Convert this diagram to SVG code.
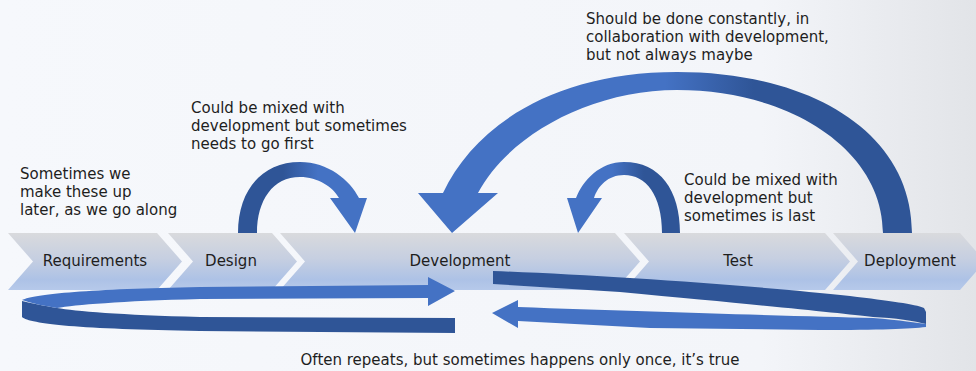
<svg xmlns="http://www.w3.org/2000/svg" width="976" height="371" viewBox="0 0 976 371">
  <defs>
    <linearGradient id="bg" x1="0" y1="0" x2="1" y2="0">
      <stop offset="0" stop-color="#f6f8fc"/>
      <stop offset="0.78" stop-color="#f3f5f9"/>
      <stop offset="1" stop-color="#e2e4e8"/>
    </linearGradient>
    <linearGradient id="chev" x1="0" y1="0" x2="0" y2="1">
      <stop offset="0" stop-color="#d9dadd"/>
      <stop offset="0.45" stop-color="#c6cfe1"/>
      <stop offset="0.82" stop-color="#adc2e6"/>
      <stop offset="1" stop-color="#b6c9ea"/>
    </linearGradient>
    <linearGradient id="gDesign" x1="0" y1="0" x2="1" y2="0">
      <stop offset="0" stop-color="#2f5597"/>
      <stop offset="0.35" stop-color="#2f5597"/>
      <stop offset="0.62" stop-color="#4472c4"/>
      <stop offset="1" stop-color="#4472c4"/>
    </linearGradient>
    <linearGradient id="gTest" x1="0" y1="0" x2="1" y2="0">
      <stop offset="0" stop-color="#4472c4"/>
      <stop offset="0.4" stop-color="#4472c4"/>
      <stop offset="0.68" stop-color="#2f5597"/>
      <stop offset="1" stop-color="#2f5597"/>
    </linearGradient>
    <linearGradient id="gBig" x1="0" y1="0" x2="1" y2="0">
      <stop offset="0" stop-color="#4472c4"/>
      <stop offset="0.5" stop-color="#4472c4"/>
      <stop offset="0.68" stop-color="#2f5597"/>
      <stop offset="1" stop-color="#2f5597"/>
    </linearGradient>
    <style>
      .chev { fill: url(#chev); }
      .lbl { font-family: "DejaVu Sans", Verdana, sans-serif; font-size: 15px; fill: #1e1e1e; text-anchor: middle; }
      .note { font-family: "DejaVu Sans", Verdana, sans-serif; font-size: 15px; fill: #1e1e1e; }
      .light { fill: #4472c4; }
      .dark { fill: #2f5597; }
    </style>
  </defs>

  <rect x="0" y="0" width="976" height="371" fill="url(#bg)"/>

  <g id="requirements">
    <polygon class="chev" points="8,233 157,233 182,261.5 157,290 8,290 33,261.5"/>
    <text class="lbl" x="95" y="266">Requirements</text>
  </g>
  <g id="design">
    <polygon class="chev" points="168,233 272,233 297,261.5 272,290 168,290 193,261.5"/>
    <text class="lbl" x="231" y="266">Design</text>
  </g>
  <g id="development">
    <polygon class="chev" points="280,233 615,233 640,261.5 615,290 280,290 305,261.5"/>
    <text class="lbl" x="460" y="266">Development</text>
  </g>
  <g id="test">
    <polygon class="chev" points="624,233 825,233 850,261.5 825,290 624,290 649,261.5"/>
    <text class="lbl" x="738" y="266">Test</text>
  </g>
  <g id="deployment">
    <polygon class="chev" points="833,233 960,233 985,261.5 960,290 833,290 858,261.5"/>
    <text class="lbl" x="910" y="266">Deployment</text>
  </g>

  <g id="connectors">
    <!-- Design self-loop arrow -->
    <path fill="url(#gDesign)" d="M238,233 C238,190 262,162 300,162 C328,162 350,180 359,198 L367,198 L355,233 L330,198 L339,198 C333,187 318,177 300,177 C273,177 257,200 257,233 Z"/>
    <!-- Test loop arrow back to development -->
    <path fill="url(#gTest)" d="M680,233 C680,190 660,162 624,162 C600,162 583,180 576,198 L567,198 L578,233 L602,198 L594,198 C598,186 608,175 624,175 C646,175 662,195 662,233 Z"/>
    <!-- Deployment to development big arrow -->
    <path fill="url(#gBig)" d="M912,233 C912,132 810,72 677,72 C555,72 475,125 443,193 L418,193 L452,233 L498,193 L478,193 C508,136 590,90 677,90 C790,90 883,150 883,233 Z"/>
    <!-- left repeat loop: lower dark strand -->
    <path class="dark" d="M22,301 L22,317 C30,324 80,329 200,331 L455,333 L455,318 L200,317 C120,315 75,311 57,308 C45,306 30,303 22,301 Z"/>
    <!-- left repeat loop: upper light strand with arrowhead -->
    <path class="light" d="M22,300 C35,294 90,289 200,287 L428,285 L428,277 L455,291 L428,306 L428,298 L200,299 C120,301 75,305 57,308 C45,306 30,303 22,300 Z"/>
    <!-- right repeat loop: upper dark strand -->
    <path class="dark" d="M493,271 C600,275 760,286 850,296 C890,301 915,304 924,308 L926,312 L926,324 C915,321 895,318 873,317 C840,313 760,305 620,292 L493,284 Z"/>
    <!-- right repeat loop: lower light strand with arrowhead -->
    <path class="light" d="M492,313 L518,300 L518,307 C650,312 800,316 873,318 C900,320 918,323 926,324 L926,327 C910,329 880,330 820,330 L650,328 L518,321 L518,328 Z"/>
  </g>

  <g id="note-requirements">
    <text class="note" x="20" y="179">Sometimes we</text>
    <text class="note" x="20" y="197">make these up</text>
    <text class="note" x="20" y="215">later, as we go along</text>
  </g>
  <g id="note-design">
    <text class="note" x="191" y="113">Could be mixed with</text>
    <text class="note" x="191" y="131">development but sometimes</text>
    <text class="note" x="191" y="149">needs to go first</text>
  </g>
  <g id="note-deployment">
    <text class="note" x="586" y="24">Should be done constantly, in</text>
    <text class="note" x="586" y="42">collaboration with development,</text>
    <text class="note" x="586" y="60">but not always maybe</text>
  </g>
  <g id="note-test">
    <text class="note" x="684" y="185">Could be mixed with</text>
    <text class="note" x="684" y="203">development but</text>
    <text class="note" x="684" y="221">sometimes is last</text>
  </g>
  <g id="note-repeat">
    <text class="note" x="520" y="365" text-anchor="middle">Often repeats, but sometimes happens only once, it’s true</text>
  </g>
</svg>
